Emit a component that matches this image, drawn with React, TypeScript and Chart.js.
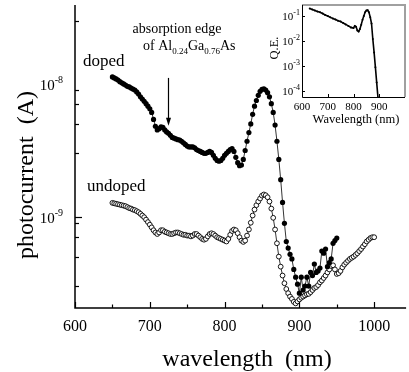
import React, { useEffect, useRef } from "react";
import { Chart, registerables } from "chart.js";

Chart.register(...registerables);

// ---------- data ----------
const dopedWavelength = [
  650, 652.5, 655, 657.5, 660, 662.5, 665, 667.5, 670, 672.5, 675, 677.5, 680, 682.5, 685, 687.5,
  690, 692.5, 695, 697.5, 700, 702.5, 705, 707.5, 710, 712.5, 715, 717.5, 720, 722.5, 725, 727.5,
  730, 732.5, 735, 737.5, 740, 742.5, 745, 747.5, 750, 752.5, 755, 757.5, 760, 762.5, 765, 767.5,
  770, 772.5, 775, 777.5, 780, 782.5, 785, 787.5, 790, 792.5, 795, 797.5, 800, 802.5, 805, 807.5,
  810, 812.5, 815, 817.5, 820, 822.5, 825, 827.5, 830, 832.5, 835, 837.5, 840, 842.5, 845, 847.5,
  850, 852.5, 855, 857.5, 860, 862.5, 865, 867.5, 870, 872.5, 875, 877.5, 880, 882.5, 885, 887.5,
  890, 892.5, 895, 897.5, 900, 902.5, 905, 907.5, 910, 912.5, 915, 917.5, 920, 922.5, 925, 927.5,
  930, 932.5, 935, 937.5, 940, 942.5, 945, 947.5, 950,
];
const dopedCurrent = [
  11.3e-9, 11.1e-9, 10.9e-9, 10.7e-9, 10.4e-9, 10.2e-9, 10.0e-9, 9.8e-9, 9.6e-9, 9.5e-9, 9.3e-9, 9.15e-9, 9.0e-9, 8.7e-9, 8.4e-9, 8.0e-9,
  7.7e-9, 7.4e-9, 7.1e-9, 6.8e-9, 6.5e-9, 6.1e-9, 5.4e-9, 4.8e-9, 4.5e-9, 4.6e-9, 4.75e-9, 4.7e-9, 4.5e-9, 4.35e-9, 4.25e-9, 4.1e-9,
  3.95e-9, 3.9e-9, 3.85e-9, 3.8e-9, 3.78e-9, 3.7e-9, 3.6e-9, 3.5e-9, 3.4e-9, 3.35e-9, 3.35e-9, 3.35e-9, 3.3e-9, 3.2e-9, 3.15e-9, 3.1e-9,
  3.05e-9, 3.0e-9, 3.0e-9, 3.05e-9, 3.1e-9, 3.05e-9, 2.9e-9, 2.75e-9, 2.65e-9, 2.62e-9, 2.65e-9, 2.75e-9, 2.9e-9, 3.0e-9, 3.1e-9, 3.2e-9,
  3.25e-9, 3.1e-9, 2.8e-9, 2.55e-9, 2.42e-9, 2.45e-9, 2.7e-9, 3.15e-9, 3.7e-9, 4.3e-9, 5.0e-9, 5.9e-9, 6.8e-9, 7.5e-9, 8.2e-9, 8.8e-9,
  9.1e-9, 9.2e-9, 9.0e-9, 8.6e-9, 8.0e-9, 7.1e-9, 6.1e-9, 4.9e-9, 3.7e-9, 2.7e-9, 1.9e-9, 1.28e-9, 0.89e-9, 0.65e-9, 0.58e-9, 0.52e-9,
  0.48e-9, 0.40e-9, 0.35e-9, 0.31e-9, 0.265e-9, 0.35e-9, 0.28e-9, 0.30e-9, 0.35e-9, 0.30e-9, 0.38e-9, 0.36e-9, 0.44e-9, 0.38e-9, 0.39e-9, 0.41e-9,
  0.55e-9, 0.53e-9, 0.57e-9, 0.42e-9, 0.45e-9, 0.48e-9, 0.63e-9, 0.66e-9, 0.69e-9,
];

const undopedWavelength = [
  650, 652.5, 655, 657.5, 660, 662.5, 665, 667.5, 670, 672.5, 675, 677.5, 680, 682.5, 685, 687.5,
  690, 692.5, 695, 697.5, 700, 702.5, 705, 707.5, 710, 712.5, 715, 717.5, 720, 722.5, 725, 727.5,
  730, 732.5, 735, 737.5, 740, 742.5, 745, 747.5, 750, 752.5, 755, 757.5, 760, 762.5, 765, 767.5,
  770, 772.5, 775, 777.5, 780, 782.5, 785, 787.5, 790, 792.5, 795, 797.5, 800, 802.5, 805, 807.5,
  810, 812.5, 815, 817.5, 820, 822.5, 825, 827.5, 830, 832.5, 835, 837.5, 840, 842.5, 845, 847.5,
  850, 852.5, 855, 857.5, 860, 862.5, 865, 867.5, 870, 872.5, 875, 877.5, 880, 882.5, 885, 887.5,
  890, 892.5, 895, 897.5, 900, 902.5, 905, 907.5, 910, 912.5, 915, 917.5, 920, 922.5, 925, 927.5,
  930, 932.5, 935, 937.5, 940, 942.5, 945, 947.5, 950, 952.5, 955, 957.5, 960, 962.5, 965, 967.5,
  970, 972.5, 975, 977.5, 980, 982.5, 985, 987.5, 990, 992.5, 995, 997.5, 1000,
];
const undopedCurrent = [
  12.7e-10, 12.6e-10, 12.5e-10, 12.4e-10, 12.3e-10, 12.2e-10, 12.1e-10, 12.0e-10, 11.8e-10, 11.6e-10, 11.5e-10, 11.3e-10, 11.2e-10, 11.0e-10, 10.8e-10, 10.5e-10,
  10.2e-10, 9.9e-10, 9.5e-10, 9.1e-10, 8.7e-10, 8.3e-10, 7.9e-10, 7.6e-10, 7.4e-10, 7.6e-10, 7.9e-10, 7.9e-10, 7.7e-10, 7.6e-10, 7.5e-10, 7.4e-10,
  7.4e-10, 7.5e-10, 7.6e-10, 7.6e-10, 7.5e-10, 7.4e-10, 7.3e-10, 7.3e-10, 7.2e-10, 7.2e-10, 7.1e-10, 7.2e-10, 7.4e-10, 7.4e-10, 7.2e-10, 7.0e-10,
  6.8e-10, 6.7e-10, 6.8e-10, 7.1e-10, 7.4e-10, 7.5e-10, 7.4e-10, 7.2e-10, 7.0e-10, 6.9e-10, 6.8e-10, 6.7e-10, 6.6e-10, 6.5e-10, 6.8e-10, 7.3e-10,
  7.8e-10, 8.0e-10, 7.9e-10, 7.5e-10, 7.0e-10, 6.6e-10, 6.45e-10, 6.6e-10, 7.2e-10, 8.0e-10, 9.0e-10, 10.2e-10, 11.3e-10, 12.2e-10, 13.0e-10, 13.7e-10,
  14.4e-10, 14.7e-10, 14.5e-10, 14.0e-10, 13.0e-10, 11.5e-10, 9.8e-10, 8.0e-10, 6.3e-10, 5.0e-10, 4.2e-10, 3.6e-10, 3.15e-10, 2.85e-10, 2.65e-10, 2.5e-10,
  2.4e-10, 2.28e-10, 2.22e-10, 2.3e-10, 2.38e-10, 2.45e-10, 2.5e-10, 2.55e-10, 2.6e-10, 2.62e-10, 2.7e-10, 2.8e-10, 2.9e-10, 2.95e-10, 3.05e-10, 3.2e-10,
  3.3e-10, 3.45e-10, 3.6e-10, 3.8e-10, 4.0e-10, 4.25e-10, 4.3e-10, 4.0e-10, 3.7e-10, 3.75e-10, 3.9e-10, 4.15e-10, 4.35e-10, 4.5e-10, 4.65e-10, 4.8e-10,
  4.9e-10, 5.0e-10, 5.15e-10, 5.3e-10, 5.5e-10, 5.7e-10, 5.95e-10, 6.2e-10, 6.5e-10, 6.7e-10, 6.9e-10, 7.0e-10, 7.0e-10,
];

const insetWavelength = [
  630, 640, 650, 660, 670, 680, 690, 700, 710, 720, 730, 740, 750, 760, 770, 780, 790, 800,
  805, 810, 815, 820, 825, 830, 835, 840, 845, 850, 855, 860, 865, 870, 875, 880, 885, 890, 895,
];
const insetQE = [
  0.2, 0.18, 0.165, 0.15, 0.14, 0.125, 0.11, 0.1, 0.088, 0.08, 0.072, 0.065, 0.06, 0.052, 0.046, 0.04, 0.035, 0.033,
  0.04, 0.037, 0.026, 0.024, 0.03, 0.045, 0.07, 0.1, 0.14, 0.165, 0.17, 0.14, 0.09, 0.05, 0.012, 0.0035, 0.0009, 0.00022, 0.000055,
];

const mainXMajor = [600, 700, 800, 900, 1000];
const mainXMinor = [650, 750, 850, 950];
const mainYMajor = [1e-9, 1e-8];
const mainYMajorExp = ["-9", "-8"];
const mainYMinor = [
  3e-10, 4e-10, 5e-10, 6e-10, 7e-10, 8e-10, 9e-10,
  2e-9, 3e-9, 4e-9, 5e-9, 6e-9, 7e-9, 8e-9, 9e-9, 2e-8, 3e-8,
];
const insetXTicks = [600, 700, 800, 900];
const insetYTicks = [1e-4, 1e-3, 1e-2, 1e-1];
const insetYExp = ["-4", "-3", "-2", "-1"];

const SERIF = '"Liberation Serif", "Times New Roman", serif';

function toPts(xs: number[], ys: number[]) {
  return xs.map((x, i) => ({ x, y: ys[i] }));
}

const mainDecor = {
  id: "mainDecor",
  afterDraw(chart: any) {
    const { ctx, chartArea } = chart;
    const x = chart.scales.x;
    const y = chart.scales.y;
    ctx.save();
    ctx.strokeStyle = "#000";
    ctx.fillStyle = "#000";
    ctx.lineWidth = 1.5;
    ctx.beginPath();
    ctx.moveTo(chartArea.left, chartArea.top);
    ctx.lineTo(chartArea.left, chartArea.bottom);
    ctx.lineTo(chartArea.right + 2, chartArea.bottom);
    ctx.stroke();

    ctx.lineWidth = 1.2;
    // x ticks
    x.ticks.forEach((t: any) => {
      const px = Math.round(x.getPixelForValue(t.value)) + 0.5;
      const len = mainXMajor.includes(t.value) ? 6 : 3.5;
      ctx.beginPath();
      ctx.moveTo(px, chartArea.bottom);
      ctx.lineTo(px, chartArea.bottom - len);
      ctx.stroke();
    });
    // y ticks
    y.ticks.forEach((t: any) => {
      const py = Math.round(y.getPixelForValue(t.value)) + 0.5;
      const major = mainYMajor.includes(t.value);
      const len = major ? 7 : 4;
      ctx.beginPath();
      ctx.moveTo(chartArea.left, py);
      ctx.lineTo(chartArea.left + len, py);
      ctx.stroke();
    });

    // x tick labels
    ctx.font = `16px ${SERIF}`;
    ctx.textAlign = "center";
    ctx.textBaseline = "alphabetic";
    mainXMajor.forEach((v) => {
      ctx.fillText(String(v), x.getPixelForValue(v), 331);
    });

    // y tick labels with superscript
    mainYMajor.forEach((v, i) => {
      const py = y.getPixelForValue(v);
      ctx.font = `10px ${SERIF}`;
      const ew = ctx.measureText(mainYMajorExp[i]).width;
      ctx.textAlign = "right";
      ctx.fillText(mainYMajorExp[i], 63, py - 1);
      ctx.font = `15px ${SERIF}`;
      ctx.fillText("10", 63 - ew, py + 6);
    });

    // axis titles
    ctx.font = `24px ${SERIF}`;
    ctx.textAlign = "center";
    ctx.fillText("wavelength  (nm)", 247, 366);
    ctx.save();
    ctx.translate(33, 175);
    ctx.rotate(-Math.PI / 2);
    ctx.fillText("photocurrent  (A)", 0, 0);
    ctx.restore();

    // series labels
    ctx.font = `17px ${SERIF}`;
    ctx.textAlign = "left";
    ctx.fillText("doped", 83, 66);
    ctx.fillText("undoped", 87, 191);

    // annotation
    ctx.font = `14px ${SERIF}`;
    ctx.textAlign = "center";
    ctx.fillText("absorption edge", 177, 33);
    ctx.textAlign = "left";
    const parts: [string, boolean][] = [
      ["of Al", false], ["0.24", true], ["Ga", false], ["0.76", true], ["As", false],
    ];
    let cx = 143;
    parts.forEach(([s, sub]) => {
      ctx.font = sub ? `9px ${SERIF}` : `14px ${SERIF}`;
      ctx.fillText(s, cx, sub ? 54 : 50);
      cx += ctx.measureText(s).width;
    });

    // arrow
    const ax = x.getPixelForValue(725);
    const ay0 = y.getPixelForValue(1.11e-8);
    const ay1 = y.getPixelForValue(4.85e-9);
    ctx.lineWidth = 1.2;
    ctx.beginPath();
    ctx.moveTo(ax, ay0);
    ctx.lineTo(ax, ay1 - 6);
    ctx.stroke();
    ctx.beginPath();
    ctx.moveTo(ax - 2.5, ay1 - 8);
    ctx.lineTo(ax + 2.5, ay1 - 8);
    ctx.lineTo(ax, ay1);
    ctx.closePath();
    ctx.fill();
    ctx.restore();
  },
};

const insetDecor = {
  id: "insetDecor",
  afterDraw(chart: any) {
    const { ctx, chartArea } = chart;
    const x = chart.scales.x;
    const y = chart.scales.y;
    ctx.save();
    // frame
    ctx.strokeStyle = "#a0a0a0";
    ctx.lineWidth = 2;
    ctx.beginPath();
    ctx.moveTo(chartArea.left, chartArea.top);
    ctx.lineTo(chartArea.right, chartArea.top);
    ctx.lineTo(chartArea.right, chartArea.bottom);
    ctx.stroke();
    ctx.strokeStyle = "#000";
    ctx.lineWidth = 1;
    ctx.beginPath();
    ctx.moveTo(chartArea.left + 0.5, chartArea.top);
    ctx.lineTo(chartArea.left + 0.5, chartArea.bottom + 0.5);
    ctx.lineTo(chartArea.right, chartArea.bottom + 0.5);
    ctx.stroke();
    // ticks
    insetXTicks.forEach((v) => {
      const px = Math.round(x.getPixelForValue(v)) + 0.5;
      ctx.beginPath();
      ctx.moveTo(px, chartArea.bottom);
      ctx.lineTo(px, chartArea.bottom - 3);
      ctx.stroke();
    });
    insetYTicks.forEach((v) => {
      const py = Math.round(y.getPixelForValue(v)) + 0.5;
      ctx.beginPath();
      ctx.moveTo(chartArea.left, py);
      ctx.lineTo(chartArea.left + 3, py);
      ctx.stroke();
    });
    ctx.fillStyle = "#000";
    ctx.font = `11px ${SERIF}`;
    ctx.textAlign = "center";
    insetXTicks.forEach((v) => {
      ctx.fillText(String(v), x.getPixelForValue(v), chartArea.bottom + 13);
    });
    insetYTicks.forEach((v, i) => {
      const py = y.getPixelForValue(v);
      ctx.textAlign = "right";
      ctx.font = `8px ${SERIF}`;
      const ew = ctx.measureText(insetYExp[i]).width;
      ctx.fillText(insetYExp[i], chartArea.left - 2, py - 1);
      ctx.font = `11px ${SERIF}`;
      ctx.fillText("10", chartArea.left - 2 - ew, py + 4);
    });
    ctx.font = `12.5px ${SERIF}`;
    ctx.textAlign = "center";
    ctx.fillText("Wavelength (nm)", 96, 123);
    ctx.save();
    ctx.translate(18, 48);
    ctx.rotate(-Math.PI / 2);
    ctx.fillText("Q.E.", 0, 0);
    ctx.restore();
    ctx.restore();
  },
};

export default function App() {
  const mainRef = useRef<HTMLCanvasElement>(null);
  const insetRef = useRef<HTMLCanvasElement>(null);

  useEffect(() => {
    document.body.style.margin = "0";
    const main = new Chart(mainRef.current!, {
      type: "line",
      data: {
        datasets: [
          {
            label: "doped",
            data: toPts(dopedWavelength, dopedCurrent),
            borderColor: "#000",
            borderWidth: 0.8,
            pointRadius: 2.6,
            pointBackgroundColor: "#000",
            pointBorderColor: "#000",
            pointBorderWidth: 0,
            tension: 0,
          },
          {
            label: "undoped",
            data: toPts(undopedWavelength, undopedCurrent),
            borderColor: "#000",
            borderWidth: 0.8,
            pointRadius: 2.4,
            pointBackgroundColor: "#fff",
            pointBorderColor: "#000",
            pointBorderWidth: 0.9,
            tension: 0,
          },
        ],
      },
      options: {
        responsive: false,
        animation: false,
        devicePixelRatio: 1,
        layout: { padding: { left: 75, right: 1, top: 0, bottom: 64 } },
        plugins: { legend: { display: false }, tooltip: { enabled: false } },
        scales: {
          x: {
            type: "linear",
            min: 600,
            max: 1040,
            display: false,
            afterBuildTicks: (s: any) => {
              s.ticks = [...mainXMajor, ...mainXMinor].map((v) => ({ value: v }));
            },
          },
          y: {
            type: "logarithmic",
            min: 2.05e-10,
            max: 3.94e-8,
            display: false,
            afterBuildTicks: (s: any) => {
              s.ticks = [...mainYMajor, ...mainYMinor].map((v) => ({ value: v }));
            },
          },
        },
      },
      plugins: [mainDecor],
    });

    const inset = new Chart(insetRef.current!, {
      type: "line",
      data: {
        datasets: [
          {
            label: "Q.E.",
            data: toPts(insetWavelength, insetQE),
            borderColor: "#000",
            borderWidth: 1.6,
            pointRadius: 1,
            pointBackgroundColor: "#000",
            pointBorderWidth: 0,
            tension: 0,
          },
        ],
      },
      options: {
        responsive: false,
        animation: false,
        devicePixelRatio: 1,
        layout: { padding: { left: 42, right: 1, top: 5, bottom: 38 } },
        plugins: { legend: { display: false }, tooltip: { enabled: false } },
        scales: {
          x: { type: "linear", min: 600, max: 1000, display: false },
          y: { type: "logarithmic", min: 5.75e-5, max: 0.275, display: false },
        },
      },
      plugins: [insetDecor],
    });

    return () => {
      main.destroy();
      inset.destroy();
    };
  }, []);

  return (
    <div style={{ position: "relative", width: 409, height: 372, background: "#fff" }}>
      <canvas
        ref={mainRef}
        width={409}
        height={372}
        style={{ position: "absolute", left: 0, top: 0, width: 409, height: 372 }}
      />
      <canvas
        ref={insetRef}
        width={149}
        height={135}
        style={{ position: "absolute", left: 260, top: 0, width: 149, height: 135 }}
      />
    </div>
  );
}
